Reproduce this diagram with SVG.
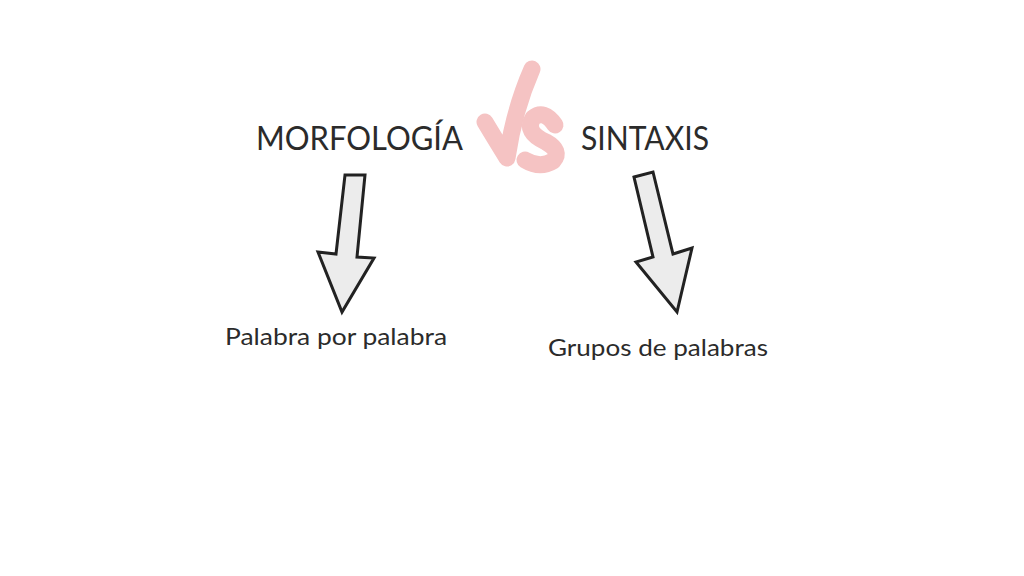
<svg xmlns="http://www.w3.org/2000/svg" width="1024" height="576" viewBox="0 0 1024 576">
<style>
.title{font-family:"Lato","Noto Sans",sans-serif;font-size:32px;fill:#2b2b2b}
.label{font-family:"Lato","Noto Sans",sans-serif;font-size:23px;fill:#2b2b2b}
.arrow{fill:#ececec;stroke:#222;stroke-width:3;stroke-linejoin:miter}
.vs{fill:none;stroke:#f5c3c3;stroke-width:17;stroke-linecap:round;stroke-linejoin:round}
</style>
<rect width="1024" height="576" fill="#ffffff"/>
<g id="vs">
<path class="vs" d="M485 122 Q497 142 507 158 Q514 110 532 69"/>
<path class="vs" d="M555 125 Q544 109 533 118 Q524 132 546 142 Q562 151 553 161 Q540 169 525 160"/>
</g>
<g id="morfologia"><text class="title" x="256" y="150" textLength="207" lengthAdjust="spacingAndGlyphs">MORFOLOGÍA</text></g>
<g id="sintaxis"><text class="title" x="581" y="150" textLength="128" lengthAdjust="spacingAndGlyphs">SINTAXIS</text></g>
<g id="palabra"><text class="label" x="225" y="345" textLength="222" lengthAdjust="spacingAndGlyphs">Palabra por palabra</text></g>
<g id="grupos"><text class="label" x="548" y="356" textLength="220" lengthAdjust="spacingAndGlyphs">Grupos de palabras</text></g>
<g id="connectors">
<path class="arrow" d="M345 175 L365 175 L357 257 L374 258 L342 312 L318 252 L336 254 Z"/>
<path class="arrow" d="M634 177 L653 172 L673 254 L692 248 L677 312 L636 262 L653 257 Z"/>
</g>
</svg>
